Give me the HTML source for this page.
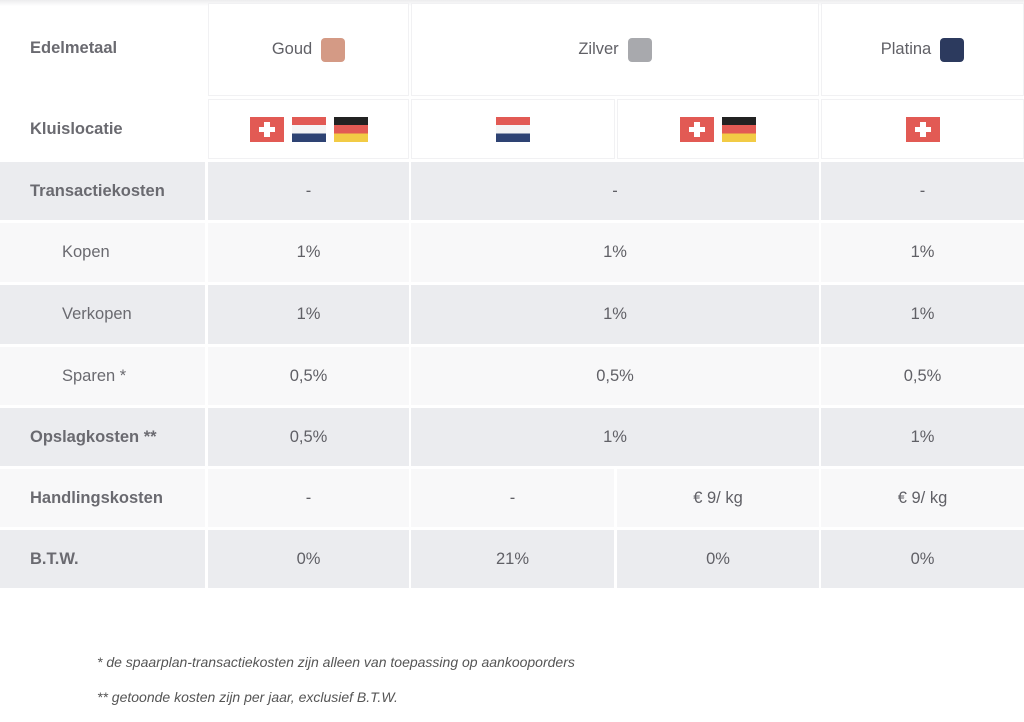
<!DOCTYPE html><html><head><style>
body{margin:0;width:1024px;height:722px;background:#fff;position:relative;overflow:hidden;font-family:"Liberation Sans",sans-serif;}
.c{position:absolute;display:flex;align-items:center;justify-content:center;font-size:16.5px;color:#606066;}
.l{justify-content:flex-start;padding-left:30px;box-sizing:border-box;font-weight:bold;color:#6a6a70;font-size:16.5px}
.s{justify-content:flex-start;padding-left:62px;box-sizing:border-box;color:#6a6a70;}
.g{background:#ebecef}.w{background:#f8f8f9}.h{background:#fff;border:1px solid #f1f1f3;box-sizing:border-box}
.sw{display:inline-block;width:24px;height:24px;border-radius:4px;margin-left:9px}
.f{display:inline-block;width:34px;height:25px;margin:0 4px;vertical-align:middle}
.ch{background:#e25a54;position:relative}
.ch:before{content:"";position:absolute;left:14px;top:5px;width:6px;height:15px;background:#fff}
.ch:after{content:"";position:absolute;left:9px;top:10px;width:16px;height:5px;background:#fff}
.nl{background:linear-gradient(#e25a54 0 33%,#f4f4f4 33% 66%,#2e4373 66%)}
.de{background:linear-gradient(#222 0 33%,#e25a54 33% 66%,#f2cb45 66%)}
.fn{position:absolute;left:97px;font-size:14px;font-style:italic;color:#555}
</style></head><body>
<div style="position:absolute;left:0;top:0;width:1024px;height:6px;background:linear-gradient(#ececee,#fff)"></div>
<div class="c h l" style="left:0;top:0;width:205px;height:96px;border:none;background:transparent">Edelmetaal</div>
<div class="c h" style="left:208px;top:3px;width:201px;height:93px">Goud<span class="sw" style="background:#d49a85"></span></div>
<div class="c h" style="left:411px;top:3px;width:408px;height:93px">Zilver<span class="sw" style="background:#a8a9ad"></span></div>
<div class="c h" style="left:821px;top:3px;width:203px;height:93px">Platina<span class="sw" style="background:#2c3a5e"></span></div>
<div class="c h l" style="left:0;top:99px;width:205px;height:60px;border:none">Kluislocatie</div>
<div class="c h" style="left:208px;top:99px;width:201px;height:60px"><span class="f ch"></span><span class="f nl"></span><span class="f de"></span></div>
<div class="c h" style="left:411px;top:99px;width:204px;height:60px"><span class="f nl"></span></div>
<div class="c h" style="left:617px;top:99px;width:202px;height:60px"><span class="f ch"></span><span class="f de"></span></div>
<div class="c h" style="left:821px;top:99px;width:203px;height:60px"><span class="f ch"></span></div>

<div class="c g l" style="left:0;top:162px;width:205px;height:58px">Transactiekosten</div>
<div class="c g" style="left:208px;top:162px;width:201px;height:58px">-</div>
<div class="c g" style="left:411px;top:162px;width:408px;height:58px">-</div>
<div class="c g" style="left:821px;top:162px;width:203px;height:58px">-</div>

<div class="c w s" style="left:0;top:223px;width:205px;height:59px">Kopen</div>
<div class="c w" style="left:208px;top:223px;width:201px;height:59px">1%</div>
<div class="c w" style="left:411px;top:223px;width:408px;height:59px">1%</div>
<div class="c w" style="left:821px;top:223px;width:203px;height:59px">1%</div>

<div class="c g s" style="left:0;top:285px;width:205px;height:59px">Verkopen</div>
<div class="c g" style="left:208px;top:285px;width:201px;height:59px">1%</div>
<div class="c g" style="left:411px;top:285px;width:408px;height:59px">1%</div>
<div class="c g" style="left:821px;top:285px;width:203px;height:59px">1%</div>

<div class="c w s" style="left:0;top:347px;width:205px;height:58px">Sparen *</div>
<div class="c w" style="left:208px;top:347px;width:201px;height:58px">0,5%</div>
<div class="c w" style="left:411px;top:347px;width:408px;height:58px">0,5%</div>
<div class="c w" style="left:821px;top:347px;width:203px;height:58px">0,5%</div>

<div class="c g l" style="left:0;top:408px;width:205px;height:58px">Opslagkosten **</div>
<div class="c g" style="left:208px;top:408px;width:201px;height:58px">0,5%</div>
<div class="c g" style="left:411px;top:408px;width:408px;height:58px">1%</div>
<div class="c g" style="left:821px;top:408px;width:203px;height:58px">1%</div>

<div class="c w l" style="left:0;top:469px;width:205px;height:58px">Handlingskosten</div>
<div class="c w" style="left:208px;top:469px;width:201px;height:58px">-</div>
<div class="c w" style="left:411px;top:469px;width:203px;height:58px">-</div>
<div class="c w" style="left:617px;top:469px;width:202px;height:58px">€ 9/ kg</div>
<div class="c w" style="left:821px;top:469px;width:203px;height:58px">€ 9/ kg</div>

<div class="c g l" style="left:0;top:530px;width:205px;height:58px">B.T.W.</div>
<div class="c g" style="left:208px;top:530px;width:201px;height:58px">0%</div>
<div class="c g" style="left:411px;top:530px;width:203px;height:58px">21%</div>
<div class="c g" style="left:617px;top:530px;width:202px;height:58px">0%</div>
<div class="c g" style="left:821px;top:530px;width:203px;height:58px">0%</div>

<div class="fn" style="top:654px">* de spaarplan-transactiekosten zijn alleen van toepassing op aankooporders</div>
<div class="fn" style="top:689px">** getoonde kosten zijn per jaar, exclusief B.T.W.</div>
</body></html>
